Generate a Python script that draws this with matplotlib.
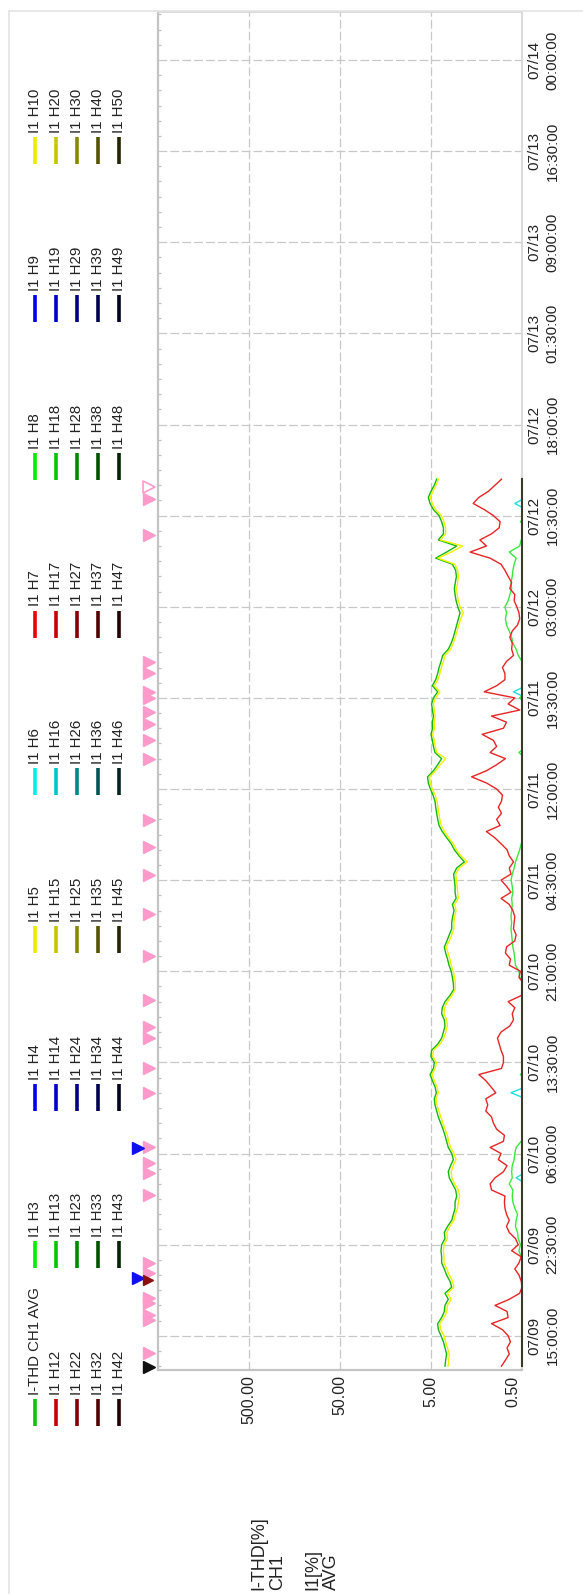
import matplotlib
matplotlib.use("Agg")
import matplotlib.pyplot as plt
from matplotlib.lines import Line2D
from matplotlib.ticker import FixedLocator, NullLocator
from matplotlib.transforms import blended_transform_factory, ScaledTranslation
import matplotlib.dates as mdates
import pandas as pd

plt.rcParams["font.family"] = ["Liberation Sans", "DejaVu Sans"]

# 30 minute averages, I1 channel
times = pd.date_range("2021-07-09 12:30", periods=147, freq="30min")

thd = [3.51, 3.45, 3.37, 3.51, 3.65, 3.88, 4.15, 4.22, 3.82, 3.57,
       3.51, 3.23, 3.51, 2.96, 3.10, 3.37, 3.57, 3.82, 3.82, 3.88,
       3.82, 3.51, 3.57, 3.29, 2.96, 2.84, 2.72, 2.72, 2.61, 2.68,
       2.91, 3.15, 3.23, 3.05, 2.84, 2.96, 3.23, 3.37, 3.51, 3.69,
       3.91, 4.15, 4.33, 4.52, 4.60, 4.37, 4.52, 4.83, 5.12, 4.70,
       4.60, 5.02, 4.92, 4.22, 3.82, 3.65, 3.51, 3.57, 3.82, 3.76,
       3.51, 3.10, 2.82, 2.84, 2.91, 3.00, 3.17, 3.29, 3.45, 3.57,
       3.34, 3.15, 2.96, 2.96, 2.89, 2.79, 2.91, 2.65, 2.72, 2.72,
       2.77, 2.82, 2.61, 2.15, 2.46, 2.77, 3.00, 3.37, 3.76, 4.08,
       4.22, 4.33, 4.44, 4.52, 4.75, 5.08, 5.35, 5.45, 4.70, 4.22,
       3.82, 4.52, 4.70, 4.83, 5.00, 4.80, 4.83, 4.70, 4.83, 4.92,
       4.70, 4.22, 4.83, 4.44, 4.22, 4.08, 3.88, 3.72, 3.23, 3.00,
       2.84, 2.72, 2.61, 2.50, 2.40, 2.54, 2.65, 2.72, 2.77, 2.70,
       2.63, 2.68, 2.91, 4.44, 3.37, 2.61, 4.15, 3.65, 3.65, 3.82,
       4.08, 4.70, 5.12, 5.35, 5.00, 4.60, 4.33]

h5 = [3.25, 3.20, 3.15, 3.30, 3.45, 3.60, 3.90, 4.00, 3.60, 3.35,
      3.30, 3.00, 3.30, 2.80, 2.90, 3.15, 3.35, 3.60, 3.60, 3.65,
      3.60, 3.30, 3.35, 3.10, 2.80, 2.70, 2.55, 2.50, 2.42, 2.50,
      2.75, 2.95, 3.00, 2.85, 2.65, 2.80, 3.05, 3.20, 3.30, 3.50,
      3.70, 3.90, 4.10, 4.30, 4.40, 4.15, 4.30, 4.60, 4.90, 4.50,
      4.35, 4.80, 4.70, 4.00, 3.60, 3.45, 3.30, 3.35, 3.60, 3.55,
      3.30, 2.95, 2.70, 2.70, 2.75, 2.85, 3.00, 3.10, 3.25, 3.40,
      3.15, 2.95, 2.80, 2.80, 2.75, 2.65, 2.75, 2.50, 2.55, 2.58,
      2.62, 2.68, 2.45, 2.00, 2.35, 2.62, 2.85, 3.20, 3.55, 3.85,
      4.00, 4.10, 4.20, 4.30, 4.50, 4.85, 5.10, 5.20, 4.45, 3.95,
      3.45, 4.30, 4.50, 4.60, 4.80, 4.55, 4.60, 4.50, 4.60, 4.70,
      4.45, 4.00, 4.60, 4.20, 4.00, 3.85, 3.65, 3.50, 3.05, 2.85,
      2.70, 2.58, 2.48, 2.35, 2.20, 2.40, 2.50, 2.58, 2.62, 2.55,
      2.50, 2.55, 2.75, 4.20, 3.00, 2.25, 3.95, 3.45, 3.45, 3.60,
      3.85, 4.45, 4.85, 5.10, 4.75, 4.40, 4.15]

h7 = [0.84, 0.76, 0.69, 0.73, 0.67, 0.71, 0.82, 1.08, 0.71, 0.73,
      0.99, 0.69, 0.53, 0.50, 0.51, 0.54, 0.60, 0.54, 0.51, 0.65,
      0.55, 0.59, 0.69, 0.74, 0.69, 0.74, 0.77, 0.78, 0.77, 1.08,
      1.12, 0.99, 0.80, 0.73, 0.91, 0.85, 1.12, 0.80, 0.78, 0.95,
      1.03, 1.08, 1.25, 1.19, 1.25, 0.97, 1.10, 1.25, 1.49, 0.84,
      0.80, 0.80, 0.85, 0.89, 0.93, 0.85, 0.68, 0.62, 0.64, 0.60,
      0.71, 0.51, 0.48, 0.48, 0.54, 0.52, 0.69, 0.67, 0.76, 0.74,
      0.60, 0.58, 0.62, 0.61, 0.60, 0.63, 0.69, 0.85, 0.66, 0.74,
      0.85, 0.66, 0.69, 0.62, 0.69, 0.73, 0.85, 1.00, 1.23, 0.87,
      0.95, 0.84, 0.91, 0.84, 0.82, 0.95, 1.23, 1.79, 1.23, 0.95,
      0.76, 1.12, 0.95, 1.03, 1.37, 0.80, 0.74, 1.08, 0.53, 0.71,
      0.60, 1.30, 0.95, 0.77, 0.77, 0.82, 0.74, 0.62, 0.65, 0.64,
      0.68, 0.64, 0.56, 0.53, 0.54, 0.57, 0.61, 0.60, 0.68, 0.65,
      0.71, 0.77, 0.85, 1.12, 1.86, 1.23, 1.45, 1.08, 0.89, 0.87,
      1.03, 1.30, 1.72, 1.49, 1.17, 0.99, 0.84]

h3 = [0.45, 0.45, 0.45, 0.45, 0.45, 0.45, 0.45, 0.45, 0.45, 0.45,
      0.45, 0.45, 0.45, 0.45, 0.45, 0.45, 0.45, 0.45, 0.51, 0.54,
      0.52, 0.55, 0.56, 0.59, 0.58, 0.56, 0.60, 0.63, 0.64, 0.63,
      0.69, 0.64, 0.65, 0.64, 0.61, 0.60, 0.58, 0.51, 0.45, 0.45,
      0.45, 0.45, 0.45, 0.45, 0.45, 0.45, 0.45, 0.45, 0.52, 0.45,
      0.45, 0.45, 0.45, 0.45, 0.45, 0.45, 0.45, 0.45, 0.45, 0.45,
      0.45, 0.45, 0.45, 0.45, 0.53, 0.54, 0.59, 0.60, 0.61, 0.63,
      0.64, 0.65, 0.66, 0.65, 0.66, 0.65, 0.64, 0.65, 0.63, 0.64,
      0.66, 0.64, 0.61, 0.59, 0.56, 0.53, 0.51, 0.45, 0.45, 0.45,
      0.45, 0.45, 0.45, 0.45, 0.45, 0.45, 0.45, 0.45, 0.45, 0.45,
      0.45, 0.54, 0.45, 0.45, 0.45, 0.45, 0.45, 0.45, 0.45, 0.45,
      0.53, 0.45, 0.45, 0.45, 0.45, 0.45, 0.50, 0.55, 0.58, 0.63,
      0.65, 0.69, 0.74, 0.76, 0.74, 0.77, 0.71, 0.68, 0.65, 0.66,
      0.64, 0.63, 0.61, 0.58, 0.69, 0.53, 0.51, 0.45, 0.45, 0.52,
      0.45, 0.45, 0.45, 0.45, 0.45, 0.45, 0.45]

h6 = [0.45, 0.45, 0.45, 0.45, 0.45, 0.45, 0.45, 0.45, 0.45, 0.45,
      0.45, 0.45, 0.45, 0.45, 0.45, 0.45, 0.45, 0.45, 0.45, 0.45,
      0.45, 0.45, 0.45, 0.45, 0.45, 0.45, 0.45, 0.45, 0.45, 0.45,
      0.45, 0.58, 0.45, 0.45, 0.45, 0.45, 0.45, 0.45, 0.45, 0.45,
      0.45, 0.45, 0.45, 0.45, 0.45, 0.66, 0.45, 0.45, 0.45, 0.45,
      0.45, 0.45, 0.45, 0.45, 0.45, 0.45, 0.45, 0.45, 0.45, 0.45,
      0.45, 0.45, 0.45, 0.45, 0.45, 0.45, 0.45, 0.45, 0.45, 0.45,
      0.45, 0.45, 0.45, 0.45, 0.45, 0.45, 0.45, 0.45, 0.45, 0.45,
      0.45, 0.45, 0.45, 0.45, 0.45, 0.45, 0.45, 0.45, 0.45, 0.45,
      0.45, 0.45, 0.45, 0.45, 0.45, 0.45, 0.45, 0.45, 0.45, 0.45,
      0.45, 0.45, 0.45, 0.45, 0.45, 0.45, 0.45, 0.45, 0.45, 0.45,
      0.45, 0.62, 0.45, 0.45, 0.45, 0.45, 0.45, 0.45, 0.45, 0.45,
      0.45, 0.45, 0.45, 0.45, 0.45, 0.45, 0.45, 0.45, 0.45, 0.45,
      0.45, 0.45, 0.45, 0.45, 0.45, 0.45, 0.45, 0.45, 0.45, 0.45,
      0.45, 0.45, 0.60, 0.45, 0.45, 0.45, 0.45]

tick_times = ["07/09 15:00", "07/09 22:30", "07/10 06:00", "07/10 13:30",
              "07/10 21:00", "07/11 04:30", "07/11 12:00", "07/11 19:30",
              "07/12 03:00", "07/12 10:30", "07/12 18:00", "07/13 01:30",
              "07/13 09:00", "07/13 16:30", "07/14 00:00"]
value_ticks = [500, 50, 5, 0.5]
value_labels = ["500.00", "50.00", "5.00", "0.50"]

# event flags along the top of the trend
events = ["07/09 13:34", "07/09 16:17", "07/09 16:42", "07/09 17:41",
          "07/09 18:05", "07/09 20:09", "07/09 20:59", "07/10 02:35",
          "07/10 04:23", "07/10 05:13", "07/10 06:32", "07/10 10:58",
          "07/10 13:02", "07/10 15:30", "07/10 16:24", "07/10 18:38",
          "07/10 22:14", "07/11 01:42", "07/11 04:54", "07/11 07:13",
          "07/11 09:26", "07/11 14:28", "07/11 16:00", "07/11 17:20",
          "07/11 18:19", "07/11 19:28", "07/11 19:59", "07/11 21:33",
          "07/11 22:27", "07/12 08:54", "07/12 11:52"]
open_events = ["07/12 12:51"]
blue_events = ["07/09 19:45", "07/10 06:26"]
red_events = ["07/09 19:35"]
start_events = ["07/09 12:25"]

legend_rows = [
    ["I-THD CH1 AVG", "I1 H3", "I1 H4", "I1 H5", "I1 H6", "I1 H7", "I1 H8", "I1 H9", "I1 H10"],
    ["I1 H12", "I1 H13", "I1 H14", "I1 H15", "I1 H16", "I1 H17", "I1 H18", "I1 H19", "I1 H20"],
    ["I1 H22", "I1 H23", "I1 H24", "I1 H25", "I1 H26", "I1 H27", "I1 H28", "I1 H29", "I1 H30"],
    ["I1 H32", "I1 H33", "I1 H34", "I1 H35", "I1 H36", "I1 H37", "I1 H38", "I1 H39", "I1 H40"],
    ["I1 H42", "I1 H43", "I1 H44", "I1 H45", "I1 H46", "I1 H47", "I1 H48", "I1 H49", "I1 H50"],
]


def to_time(s):
    return pd.Timestamp("2021/" + s)


def harmonic_color(n, row):
    base = {2: (1, 0, 0), 3: (0, 1, 0), 4: (0, 0, 1), 0: (1, 1, 0), 1: (0, 1, 1)}[n % 5]
    level = [0.93, 0.78, 0.53, 0.33, 0.14][row]
    return tuple(c * level for c in base)


W, H = 583, 1594
fig = plt.figure(figsize=(W / 100, H / 100), dpi=100)
fig.patch.set_facecolor("white")

# outer frame
fig.add_artist(Line2D([9 / W, 9 / W], [0, 1 - 11 / H], color="#e4e4e4", lw=1.2))
fig.add_artist(Line2D([9 / W, 1], [1 - 11 / H, 1 - 11 / H], color="#e4e4e4", lw=1.2))

ax = fig.add_axes([158 / W, 1 - 1370 / H, 364 / W, 1358 / H])
ax.set_xscale("log")
ax.set_xlim(5000, 0.5)
ax.set_ylim(to_time("07/09 12:11"), to_time("07/14 03:57"))

ax.plot(h3, times, color="#3be83b", lw=1.0, zorder=2)
ax.plot(h6, times, color="#22dede", lw=1.0, zorder=2)
ax.plot(h7, times, color="#e82424", lw=1.0, zorder=2)
ax.plot(thd, times, color="#10b810", lw=1.0, zorder=2)
ax.plot(h5, times, color="#f0f000", lw=1.0, zorder=2)
# harmonics below the scale sit on the axis
ax.plot([0.5, 0.5], [times[0], times[-1]], color="#3a3a2a", lw=1.5,
        clip_on=False, zorder=3)

ticks = [to_time(s) for s in tick_times]
ax.set_yticks(ticks)
ax.set_yticklabels([f"{t:%m/%d}\n{t:%H:%M:%S}" for t in ticks], rotation=90,
                   fontsize=11, linespacing=1.35, va="center", ha="left",
                   multialignment="center", color="#222222")
ax.yaxis.tick_right()
ax.tick_params(axis="y", which="major", length=0, pad=4)
# small marks along the top edge of the trend
minor = pd.date_range(to_time("07/09 12:30"), to_time("07/14 03:45"), freq="75min")
ax.yaxis.set_minor_locator(FixedLocator(mdates.date2num(minor)))
ax.tick_params(axis="y", which="minor", left=True, right=False, direction="in",
               length=1.8, width=0.9, color="#c0c0c0")
ax.set_xticks(value_ticks[:3])
ax.set_xticklabels([])
ax.xaxis.set_minor_locator(NullLocator())
ax.tick_params(axis="x", length=0)
ax.grid(True, which="major", color="#c8c8c8", lw=0.9, linestyle=(0, (7, 2.5)))

for side in ["top", "right"]:
    ax.spines[side].set_color("#d4d4d4")
    ax.spines[side].set_linewidth(1.2)
for side in ["left", "bottom"]:
    ax.spines[side].set_color("#c4c4c4")
    ax.spines[side].set_linewidth(1.6)

bt = blended_transform_factory(ax.transData, ax.transAxes)
for v, lab in zip(value_ticks, value_labels):
    tr = bt
    if v == 0.5:
        tr = bt + ScaledTranslation(-9 / 100, 0, fig.dpi_scale_trans)
    ax.text(v, -0.004, lab, transform=tr, rotation=90, ha="center", va="top",
            fontsize=11.5, color="#222222")

# event flags
ft = blended_transform_factory(ax.transAxes, ax.transData)
px = lambda x: (x - 158) / 364
for s in events:
    ax.plot(px(149), to_time(s), marker=">", ms=9, color="#ff9acb", mec="#ff9acb",
            transform=ft, clip_on=False)
for s in open_events:
    ax.plot(px(149), to_time(s), marker=">", ms=9, color="white", mec="#ff9acb",
            mew=1.2, transform=ft, clip_on=False)
for s in blue_events:
    ax.plot(px(138), to_time(s), marker=">", ms=8, color="#1010ee", transform=ft,
            clip_on=False)
for s in red_events:
    ax.plot(px(148), to_time(s), marker=">", ms=7, color="#8a1010", transform=ft,
            clip_on=False)
for s in start_events:
    ax.plot(px(149), to_time(s), marker=">", ms=8, color="#111111", transform=ft,
            clip_on=False)

# legend, one column of entries per row of harmonics
for r, row in enumerate(legend_rows):
    x = (35 + 21 * r) / W
    for j, lab in enumerate(row):
        y0 = 1426 - 157.7 * j
        if j == 0 and r == 0:
            col = "#10c010"
        else:
            col = harmonic_color(int(lab.split("H")[1]), r)
        fig.add_artist(Line2D([x, x], [1 - y0 / H, 1 - (y0 - 27) / H], color=col,
                              lw=2.6, solid_capstyle="butt"))
        fig.text(x, 1 - (y0 - 31) / H, lab, rotation=90, ha="center", va="bottom",
                 fontsize=10.8, color="#222222")

fig.text(268 / W, 4 / H, "I-THD[%]\nCH1", rotation=90, ha="center", va="bottom",
         multialignment="left", fontsize=13, color="#222222", linespacing=1.1)
fig.text(322 / W, 4 / H, "I1[%]\nAVG", rotation=90, ha="center", va="bottom",
         multialignment="left", fontsize=13, color="#222222", linespacing=1.1)

fig.savefig("out.png", dpi=100)
